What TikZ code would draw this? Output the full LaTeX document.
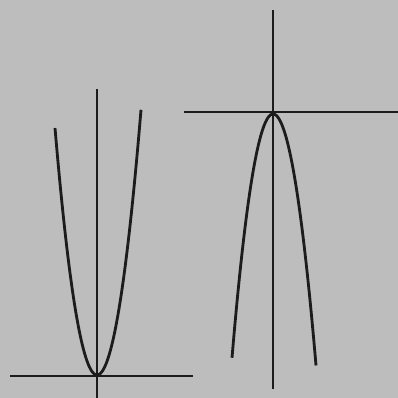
\documentclass[tikz,border=0pt]{standalone}
\usepackage{xcolor}
\usepackage{tikz}
\definecolor{ScanGray}{RGB}{189,189,189}
\definecolor{InkBlack}{RGB}{28,28,28}

\begin{document}
\begin{tikzpicture}[x=0.01cm,y=-0.01cm,
  axisline/.style={InkBlack,line width=0.75pt},
  curveline/.style={InkBlack,line width=0.8pt,smooth}]
\fill[ScanGray] (0,0) rectangle (398,398);
\useasboundingbox (0,0) rectangle (398,398);
% upward parabola
\draw[axisline] (97,89) -- (97,398);
\draw[axisline] (10,376) -- (193,376);
\draw[curveline] plot[domain=-42:0,samples=40] ({97+\x},{375-0.14*\x*\x})
  -- plot[domain=0:44,samples=40] ({97+\x},{375-0.137*\x*\x});
% downward parabola
\draw[axisline] (273,10) -- (273,389);
\draw[axisline] (184,112) -- (398,112);
\draw[curveline] plot[domain=-41:0,samples=40] ({273+\x},{114+0.145*\x*\x})
  -- plot[domain=0:43,samples=40] ({273+\x},{114+0.136*\x*\x});
\end{tikzpicture}
\end{document}
